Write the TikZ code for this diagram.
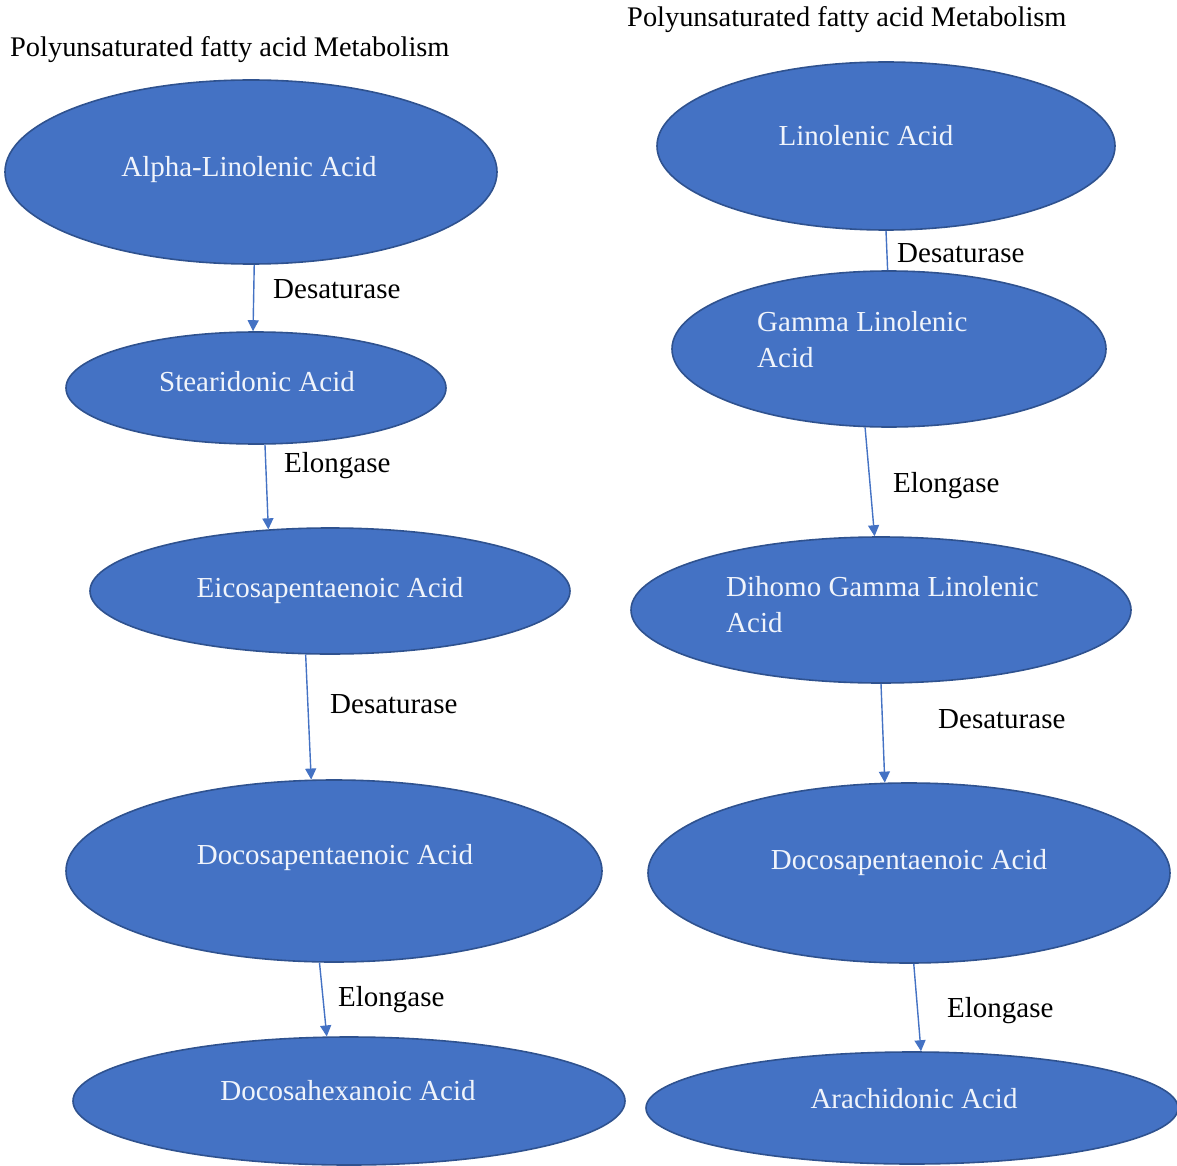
\documentclass[tikz,border=0pt]{standalone}
\usepackage{fontspec}
\setmainfont{Liberation Serif}
\usetikzlibrary{shapes.geometric,arrows.meta}
\definecolor{fillblue}{HTML}{4472C4}
\definecolor{edgeblue}{HTML}{2F528F}
\definecolor{txtw}{HTML}{F0F4FB}
\begin{document}
\begin{tikzpicture}[x=1pt,y=-1pt,
 acid/.style={ellipse, draw=edgeblue, line width=1.6pt, fill=fillblue, inner sep=0pt},
 intext/.style={text=txtw, font=\fontsize{29}{36}\selectfont, inner sep=0pt, align=left},
 lbl/.style={text=black, font=\fontsize{29}{36}\selectfont, inner sep=0pt, anchor=west},
 ttl/.style={text=black, font=\fontsize{28.4}{34}\selectfont, inner sep=0pt, anchor=west},
 arr/.style={draw=fillblue, line width=1.4pt, -{Triangle[length=11pt,width=11pt]}},
 plain/.style={draw=fillblue, line width=1.4pt},
 ]
\useasboundingbox (0,0) rectangle (1177,1166);
\fill[white] (0,0) rectangle (1177,1166);

% titles
\node[ttl] (title1) at (10,50) {Polyunsaturated fatty acid Metabolism};
\node[ttl] (title2) at (627,20) {Polyunsaturated fatty acid Metabolism};

% left column
\node[acid, minimum width=492pt, minimum height=184pt] (e1) at (251,172) {};
\node[acid, minimum width=380pt, minimum height=112pt] (e2) at (256,388) {};
\node[acid, minimum width=480pt, minimum height=126pt] (e3) at (330,591) {};
\node[acid, minimum width=536pt, minimum height=182pt] (e4) at (334,871) {};
\node[acid, minimum width=552pt, minimum height=128pt] (e5) at (349,1101) {};

\node[intext] (t1) at (249,170) {Alpha-Linolenic Acid};
\node[intext] (t2) at (257,382) {Stearidonic Acid};
\node[intext] (t3) at (330,591) {Eicosapentaenoic Acid};
\node[intext] (t4) at (335,858) {Docosapentaenoic Acid};
\node[intext] (t5) at (348,1091) {Docosahexanoic Acid};

% right column
\node[acid, minimum width=458pt, minimum height=168pt] (e6) at (886,146) {};
\node[acid, minimum width=434pt, minimum height=156pt] (e7) at (889,349) {};
\node[acid, minimum width=500pt, minimum height=146pt] (e8) at (881,610) {};
\node[acid, minimum width=522pt, minimum height=180pt] (e9) at (909,873) {};
\node[acid, minimum width=532pt, minimum height=112pt] (e10) at (912,1108) {};

\node[intext] (t6) at (866,136) {Linolenic Acid};
\node[intext, anchor=west] (t7) at (757,340) {Gamma Linolenic\\Acid};
\node[intext, anchor=west] (t8) at (726,605) {Dihomo Gamma Linolenic\\Acid};
\node[intext] (t9) at (909,863) {Docosapentaenoic Acid};
\node[intext] (t10) at (914,1099) {Arachidonic Acid};

% connectors left
\draw[arr] (e1.-88.8) -- (e2.93.1);
\draw[arr] (e2.-81.9) -- (e3.135.5);
\draw[arr] (e3.249.1) -- (e4.104.8);
\draw[arr] (e4.261.25) -- (e5.109.0);

% connectors right
\draw[plain] (e6.270) -- (e7.91.5);
\draw[arr] (e7.253.5) -- (e8.95.5);
\draw[arr] (e8.270) -- (e9.105);
\draw[arr] (e9.273.2) -- (e10.81.9);

% enzyme labels
\node[lbl] (l1) at (273,289) {Desaturase};
\node[lbl] (l2) at (284,466) {Elongase};
\node[lbl] (l3) at (330,704) {Desaturase};
\node[lbl] (l4) at (338,1000) {Elongase};
\node[lbl] (l5) at (897,253) {Desaturase};
\node[lbl] (l6) at (893,486) {Elongase};
\node[lbl] (l7) at (938,719) {Desaturase};
\node[lbl] (l8) at (947,1011) {Elongase};
\end{tikzpicture}
\end{document}
